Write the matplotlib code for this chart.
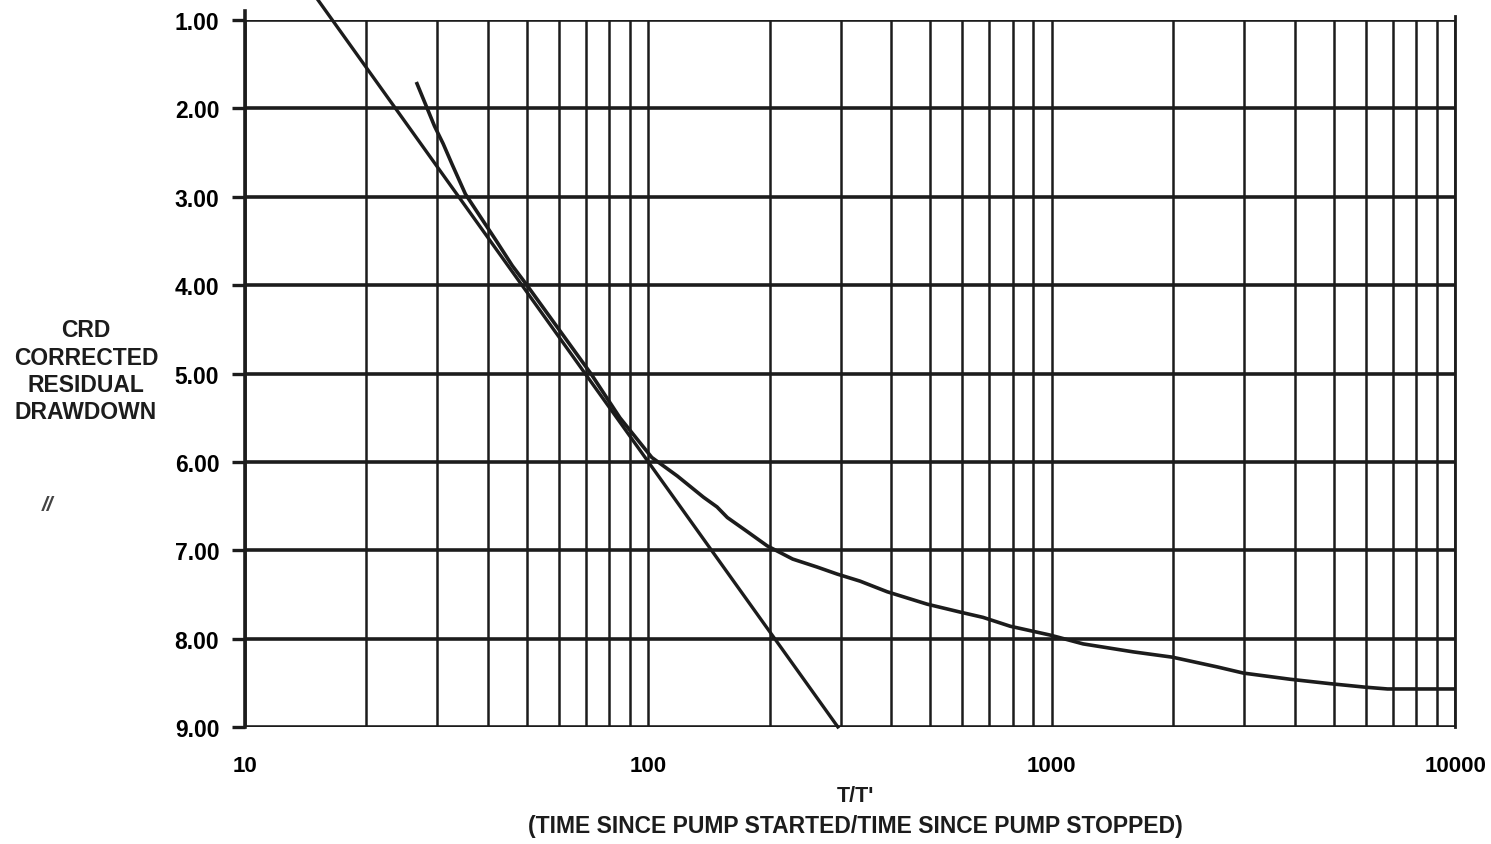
import matplotlib
matplotlib.use("Agg")
import matplotlib.pyplot as plt
from matplotlib.ticker import FixedLocator, NullFormatter, FuncFormatter

plt.rcParams['font.family'] = ['Liberation Sans', 'DejaVu Sans']

# recovery curve (T/T' vs corrected residual drawdown)
ratio = [26.7, 28.3, 29.5, 31.0, 32.6, 35.2, 38.0, 42.0, 46.0, 50.0, 60.0, 72.0,
         85.0, 102.0, 118.0, 137.0, 148.0, 157.0, 176.0, 197.0, 228.0, 262.0,
         294.0, 335.0, 391.0, 491.0, 593.0, 676.0, 789.0, 991.0, 1197.0, 1592.0,
         1990.0, 2570.0, 2985.0, 3900.0, 4900.0, 6000.0, 6800.0, 8000.0, 10000.0]
drawdown = [1.72, 2.00, 2.20, 2.40, 2.63, 2.97, 3.20, 3.50, 3.78, 4.00, 4.50, 5.00,
            5.50, 5.95, 6.16, 6.40, 6.51, 6.63, 6.79, 6.95, 7.10, 7.19,
            7.27, 7.35, 7.47, 7.61, 7.70, 7.76, 7.86, 7.96, 8.06, 8.15,
            8.21, 8.32, 8.39, 8.46, 8.51, 8.55, 8.57, 8.57, 8.57]

# straight-line fit drawn on the chart
fit_x = [15.1, 295.0]
fit_y = [0.76, 9.00]

y_ticks = [1, 2, 3, 4, 5, 6, 7, 8, 9]
x_major = [10, 100, 1000, 10000]
x_minor = [m * d for d in (10, 100, 1000) for m in range(2, 10)]

ink = '#1c1c1c'

fig = plt.figure(figsize=(14.91, 8.45), dpi=100)
ax = fig.add_axes([0.1643, 0.1385, 0.8116, 0.8366])

ax.set_xscale('log')
ax.set_xlim(10, 10000)
ax.set_ylim(9, 1)

# grid
for xv in x_major + x_minor:
    ax.axvline(xv, color=ink, lw=1.8, zorder=1)
for yv in y_ticks:
    ax.axhline(yv, color=ink, lw=2.6, zorder=1)

for s in ax.spines.values():
    s.set_visible(False)
# left edge runs a little above the top line
ax.plot([10, 10], [0.9, 9], color=ink, lw=2.6, clip_on=False, zorder=2)
ax.plot([10000, 10000], [0.95, 9], color=ink, lw=2.0, clip_on=False, zorder=2)

ax.plot(fit_x, fit_y, color=ink, lw=2.4, clip_on=False, zorder=3)
ax.plot(ratio, drawdown, color=ink, lw=2.6, zorder=3)

ax.xaxis.set_major_locator(FixedLocator(x_major))
ax.xaxis.set_minor_locator(FixedLocator(x_minor))
ax.xaxis.set_minor_formatter(NullFormatter())
ax.xaxis.set_major_formatter(FuncFormatter(lambda v, p: f"{int(v)}"))
ax.tick_params(axis='x', which='both', length=0, pad=20)
for lab in ax.get_xticklabels():
    lab.set_fontweight('bold')
    lab.set_fontsize(16)

ax.set_yticks(y_ticks)
ax.yaxis.set_major_formatter(FuncFormatter(lambda v, p: f"{v:.2f}"))
ax.tick_params(axis='y', which='major', length=9.5, width=2.4, color=ink,
               pad=9, labelsize=16.5)
for lab in ax.get_yticklabels():
    lab.set_fontweight('bold')

fig.text(0.5735, 0.057, "T/T'", ha='center', va='center', fontsize=15.5,
         fontweight='bold', color=ink)
fig.text(0.5735, 0.022, "(TIME SINCE PUMP STARTED/TIME SINCE PUMP STOPPED)",
         ha='center', va='center', fontsize=16.5, fontweight='bold', color=ink)

fig.text(0.0577, 0.5598, "CRD\nCORRECTED\nRESIDUAL\nDRAWDOWN", ha='center',
         va='center', fontsize=16.5, fontweight='bold', color=ink,
         linespacing=1.24)

fig.text(0.032, 0.402, "//", ha='center', va='center', fontsize=15,
         style='italic', fontweight='bold', color='#444444')

fig.savefig("out.png", dpi=100)
